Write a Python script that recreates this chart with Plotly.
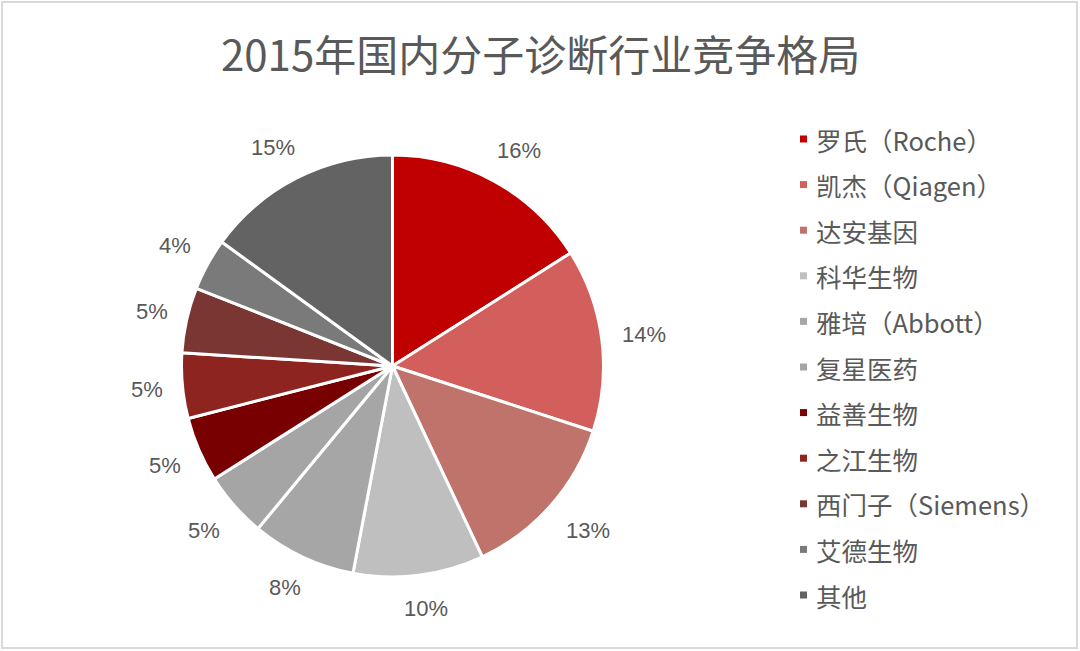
import math
import plotly.graph_objects as go

title = "2015年国内分子诊断行业竞争格局"
companies = ["罗氏（Roche）", "凯杰（Qiagen）", "达安基因", "科华生物", "雅培（Abbott）",
             "复星医药", "益善生物", "之江生物", "西门子（Siemens）", "艾德生物", "其他"]
shares = [16, 14, 13, 10, 8, 5, 5, 5, 5, 4, 15]
colors = ["#C00000", "#D25F5B", "#BF736A", "#BFBFBF", "#A6A6A6", "#A5A5A5",
          "#780000", "#8E2420", "#7A3632", "#7A7A7A", "#636363"]

W, H = 1080, 651
cx_px, cy_px, R = 392.5, 366, 211
cx = cx_px / W
cy = (H - cy_px) / H

fig = go.Figure(go.Pie(
    labels=companies, values=shares, sort=False, direction="clockwise", rotation=0,
    marker=dict(colors=colors, line=dict(color="white", width=3)),
    textinfo="none", hoverinfo="label+percent", showlegend=False,
    domain=dict(x=[(cx_px - R) / W, (cx_px + R) / W], y=[cy - R / H, cy + R / H]),
))

annotations = []
shapes = []
total = sum(shares)
cum = 0
anchor_r = 233
half_h = 11
for v in shares:
    mid = (cum + v / 2) / total * 2 * math.pi
    cum += v
    txt = f"{round(v / total * 100)}%"
    half_w = len(txt) * 13.5 / 2
    s, c = math.sin(mid), math.cos(mid)
    sx = max(-1, min(1, s * 1.5))
    cy_ = max(-1, min(1, c * 1.5))
    x = cx_px + anchor_r * s + half_w * sx
    y = cy_px - anchor_r * c - half_h * cy_
    annotations.append(dict(
        x=x / W, y=(H - y) / H, xref="paper", yref="paper", showarrow=False,
        text=txt, xanchor="center", yanchor="middle",
        font=dict(family="Liberation Sans Narrow, Liberation Sans, Arial", size=22, color="#595959"),
    ))

# legend
leg_x = 800
leg_y0 = 139
leg_dy = 45.6
for i, (name, col) in enumerate(zip(companies, colors)):
    y = leg_y0 + i * leg_dy
    shapes.append(dict(type="rect", xref="paper", yref="paper",
                       x0=leg_x / W, x1=(leg_x + 7) / W,
                       y0=(H - y - 3.5) / H, y1=(H - y + 3.5) / H,
                       fillcolor=col, line=dict(width=0)))
    annotations.append(dict(
        x=(leg_x + 14) / W, y=(H - y) / H, xref="paper", yref="paper", showarrow=False,
        text=name, xanchor="left", yanchor="middle",
        font=dict(family="Noto Sans CJK SC", size=25.5, color="#595959"),
    ))

# title
annotations.append(dict(
    x=0.5, y=(H - 52) / H, xref="paper", yref="paper", showarrow=False,
    text=title, xanchor="center", yanchor="middle",
    font=dict(family="Noto Sans CJK SC", size=42, color="#595959"),
))

# outer border
shapes.append(dict(type="rect", xref="paper", yref="paper",
                   x0=2 / W, x1=(W - 3) / W, y0=3 / H, y1=(H - 2) / H,
                   line=dict(color="#D9D9D9", width=2), fillcolor="rgba(0,0,0,0)"))

fig.update_layout(
    width=W, height=H, margin=dict(l=0, r=0, t=0, b=0),
    paper_bgcolor="white", plot_bgcolor="white",
    annotations=annotations, shapes=shapes,
    font=dict(family="Noto Sans CJK SC", color="#595959"),
)
fig.write_html("out.html", config={"displayModeBar": False},
               post_script="document.body.style.margin='0';document.body.style.overflow='hidden';")
